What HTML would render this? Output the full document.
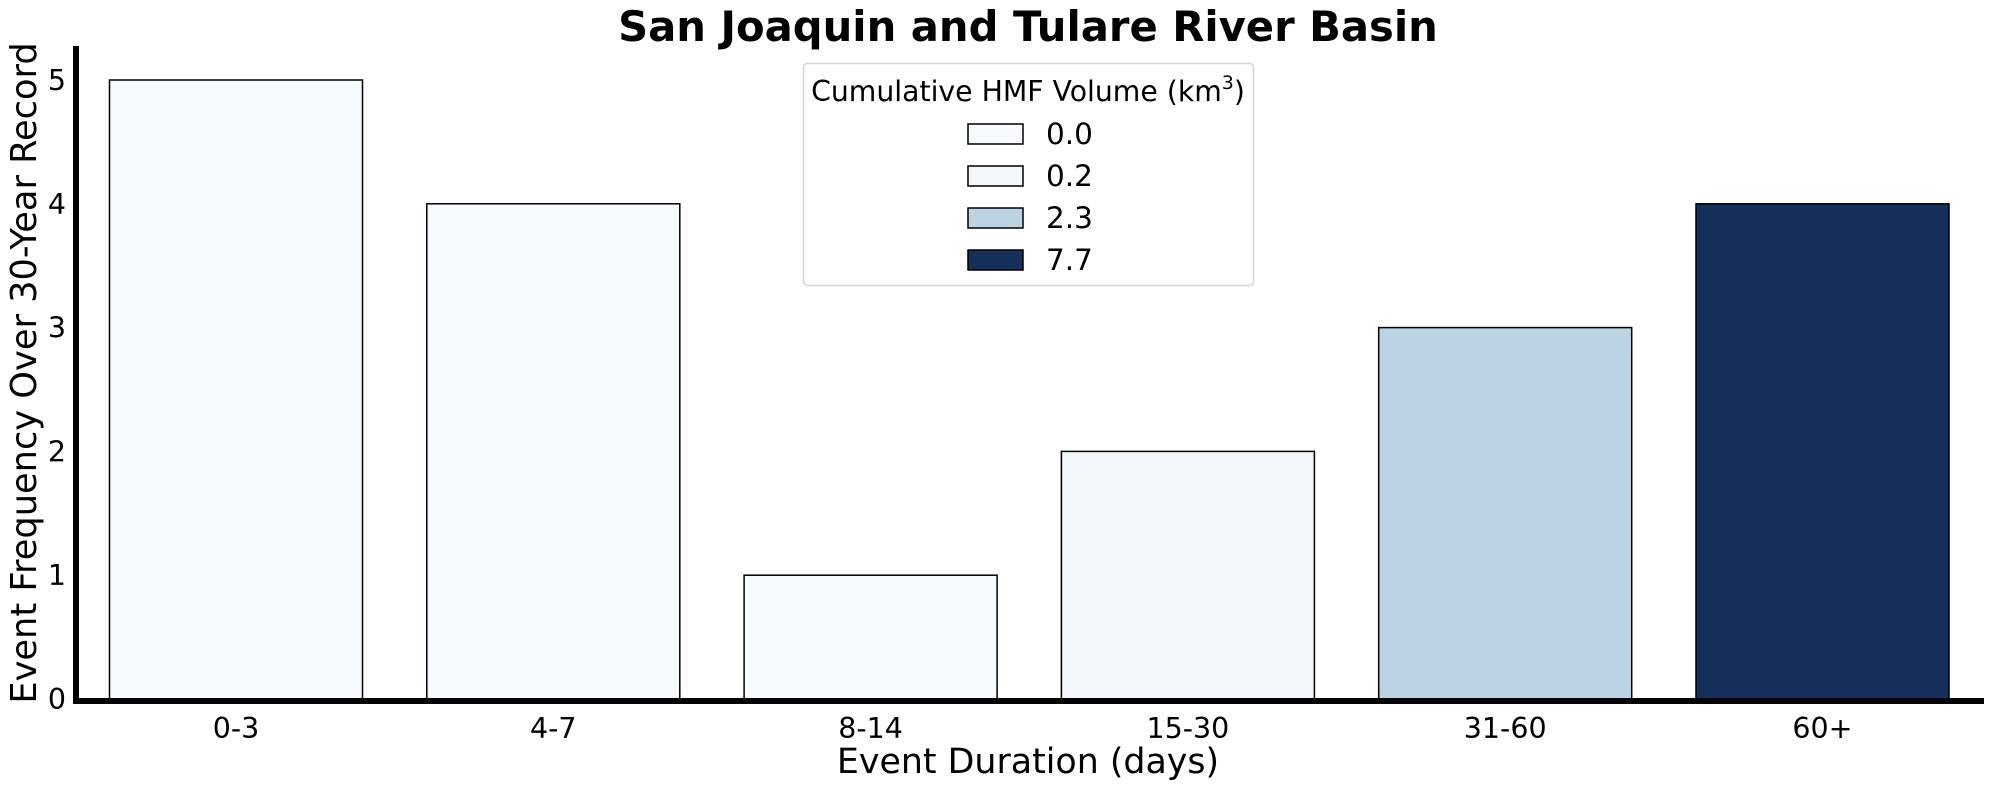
<!DOCTYPE html>
<html><head><meta charset="utf-8"><style>
body{margin:0;background:#fff;}
svg text{font-family:"DejaVu Sans","Liberation Sans",sans-serif;}
</style></head><body>
<svg id="chart" width="1990" height="789" xmlns="http://www.w3.org/2000/svg">
<text x="1028" y="41" text-anchor="middle" font-size="41.7" font-weight="bold">San Joaquin and Tulare River Basin</text>
<g id="bars"></g>
<g id="yticks"></g>
<g id="xticks"></g>
<line x1="76" y1="46" x2="76" y2="702" stroke="#000" stroke-width="6"/>
<line x1="73" y1="701" x2="1984" y2="701" stroke="#000" stroke-width="6"/>
<text x="1028" y="773" text-anchor="middle" font-size="34.8">Event Duration (days)</text>
<text transform="translate(36,373) rotate(-90)" text-anchor="middle" font-size="35.2">Event Frequency Over 30-Year Record</text>
<g>
<rect x="803.5" y="63.5" width="450" height="222" rx="4" fill="#fff" stroke="#d6d6d6" stroke-width="1.5"/>
<text x="1028" y="101" text-anchor="middle" font-size="28.3">Cumulative HMF Volume (km<tspan font-size="19" dy="-12">3</tspan><tspan dy="12">)</tspan></text>
<g id="legend-items"></g>
</g>
</svg>
<script>
const categories=["0-3","4-7","8-14","15-30","31-60","60+"];
const counts=[5,4,1,2,3,4];
const volumes=["0.0","0.0","0.0","0.2","2.3","7.7"];
const legendLabels=["0.0","0.2","2.3","7.7"];
const legendColors=["#f7fbff","#f3f7fc","#bcd3e4","#15305b"];
const yTicks=[0,1,2,3,4,5];
const NS="http://www.w3.org/2000/svg";
const y=v=>699-v*123.8;
const xc=i=>236+i*317.3;
const bw=253;
function mk(t,a,p){const e=document.createElementNS(NS,t);for(const k in a)e.setAttribute(k,a[k]);p.appendChild(e);return e;}
const bars=document.getElementById('bars');
categories.forEach((c,i)=>{
 const col=legendColors[legendLabels.indexOf(volumes[i])];
 const r=mk('rect',{x:xc(i)-bw/2,y:y(counts[i]),width:bw,height:y(0)-y(counts[i]),fill:col,stroke:'#000','stroke-width':1.5},bars);
 
 
 const t=mk('text',{x:xc(i),y:738,'text-anchor':'middle','font-size':28.5},document.getElementById('xticks'));
 t.textContent=c;
 
 
});
yTicks.forEach(v=>{
 const t=mk('text',{x:66,y:y(v)+10,'text-anchor':'end','font-size':28.5},document.getElementById('yticks'));
 t.textContent=v;
 
 
});
const li=document.getElementById('legend-items');
legendLabels.forEach((l,i)=>{
 const cy=134+i*42;
 const r=mk('rect',{x:968,y:cy-10,width:55,height:20,fill:legendColors[i],stroke:'#000','stroke-width':1.5},li);
 
 
 const t=mk('text',{x:1046,y:cy+10,'font-size':29.5},li);
 t.textContent=l;
 
 
});
</script>
</body></html>
